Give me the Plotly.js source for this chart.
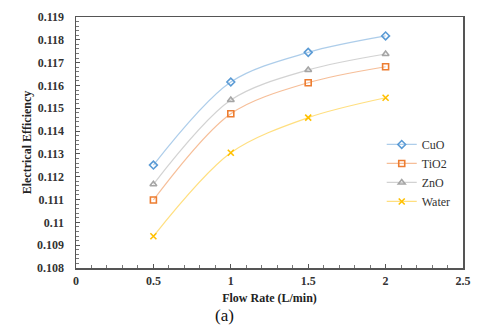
<!DOCTYPE html>
<html>
<head>
<meta charset="utf-8">
<script src="https://cdn.plot.ly/plotly-3.0.1.min.js"></script>
<style>
  body { margin: 0; background: #fff; }
  #myDiv { width: 480px; height: 327px; }
</style>
</head>
<body>
<div id="myDiv"></div>
<script>
  // flow rate (L/min)
  var flowRate = [0.5, 1, 1.5, 2];

  // electrical efficiency per fluid
  var cuo = [0.11251, 0.11615, 0.11745, 0.11817];
  var tio2 = [0.11098, 0.11476, 0.11612, 0.11682];
  var zno = [0.11167, 0.11536, 0.11668, 0.11738];
  var water = [0.10939, 0.11305, 0.11459, 0.11546];

  var seriesNames = ["CuO", "TiO2", "ZnO", "Water"];

  function trace(name, y, color, lineColor, symbol) {
    return {
      x: flowRate,
      y: y,
      name: name,
      type: "scatter",
      mode: "lines+markers",
      line: { color: lineColor, width: 1.2, shape: "spline", smoothing: 0.9 },
      marker: { symbol: symbol, size: 6, color: color, line: { color: color, width: 1.6 } }
    };
  }

  var data = [
    trace(seriesNames[0], cuo, "#5B9BD5", "rgba(91,155,213,0.5)", "diamond-open"),
    trace(seriesNames[1], tio2, "#ED7D31", "rgba(237,125,49,0.5)", "square-open"),
    trace(seriesNames[2], zno, "#A5A5A5", "rgba(165,165,165,0.5)", "triangle-up-open"),
    trace(seriesNames[3], water, "#FFC000", "rgba(255,192,0,0.5)", "x-thin-open")
  ];

  var serif = "Liberation Serif, Times New Roman, serif";

  var layout = {
    width: 480,
    height: 327,
    margin: { l: 76, r: 17, t: 17, b: 59 },
    paper_bgcolor: "#fff",
    plot_bgcolor: "#fff",
    showlegend: true,
    legend: {
      x: 0.79, y: 0.55, xanchor: "left", yanchor: "top",
      font: { family: serif, size: 12, color: "#333" },
      bgcolor: "rgba(0,0,0,0)",
      itemwidth: 30,
      tracegroupgap: 0
    },
    xaxis: {
      range: [0, 2.5],
      dtick: 0.5,
      showgrid: false,
      zeroline: false,
      showline: true,
      linecolor: "#555",
      linewidth: 1.5,
      mirror: true,
      ticks: "inside",
      ticklen: 4,
      tickcolor: "#555",
      ticklabelstandoff: 1,
      minor: { dtick: 0.1, ticks: "inside", ticklen: 3, tickcolor: "#777" },
      tickfont: { family: serif, size: 12, color: "#333", weight: "bold" },
      title: { text: "<b>Flow Rate (L/min)</b>", font: { family: serif, size: 12, color: "#222" }, standoff: 6 }
    },
    yaxis: {
      range: [0.108, 0.119],
      dtick: 0.001,
      showgrid: false,
      zeroline: false,
      showline: true,
      linecolor: "#555",
      linewidth: 1.5,
      mirror: true,
      ticks: "inside",
      ticklen: 4,
      tickcolor: "#555",
      ticklabelstandoff: 8,
      minor: { dtick: 0.0002, ticks: "inside", ticklen: 3, tickcolor: "#777" },
      tickfont: { family: serif, size: 12, color: "#333", weight: "bold" },
      title: { text: "<b>Electrical Efficiency</b>", font: { family: serif, size: 12, color: "#222" }, standoff: 3 }
    },
    annotations: [
      {
        text: "(a)",
        xref: "paper", yref: "paper",
        x: 0.385, y: -0.19,
        xanchor: "center", yanchor: "middle",
        showarrow: false,
        font: { family: serif, size: 17, color: "#111" }
      }
    ]
  };

  Plotly.newPlot("myDiv", data, layout, { displayModeBar: false, staticPlot: true });
</script>
</body>
</html>
